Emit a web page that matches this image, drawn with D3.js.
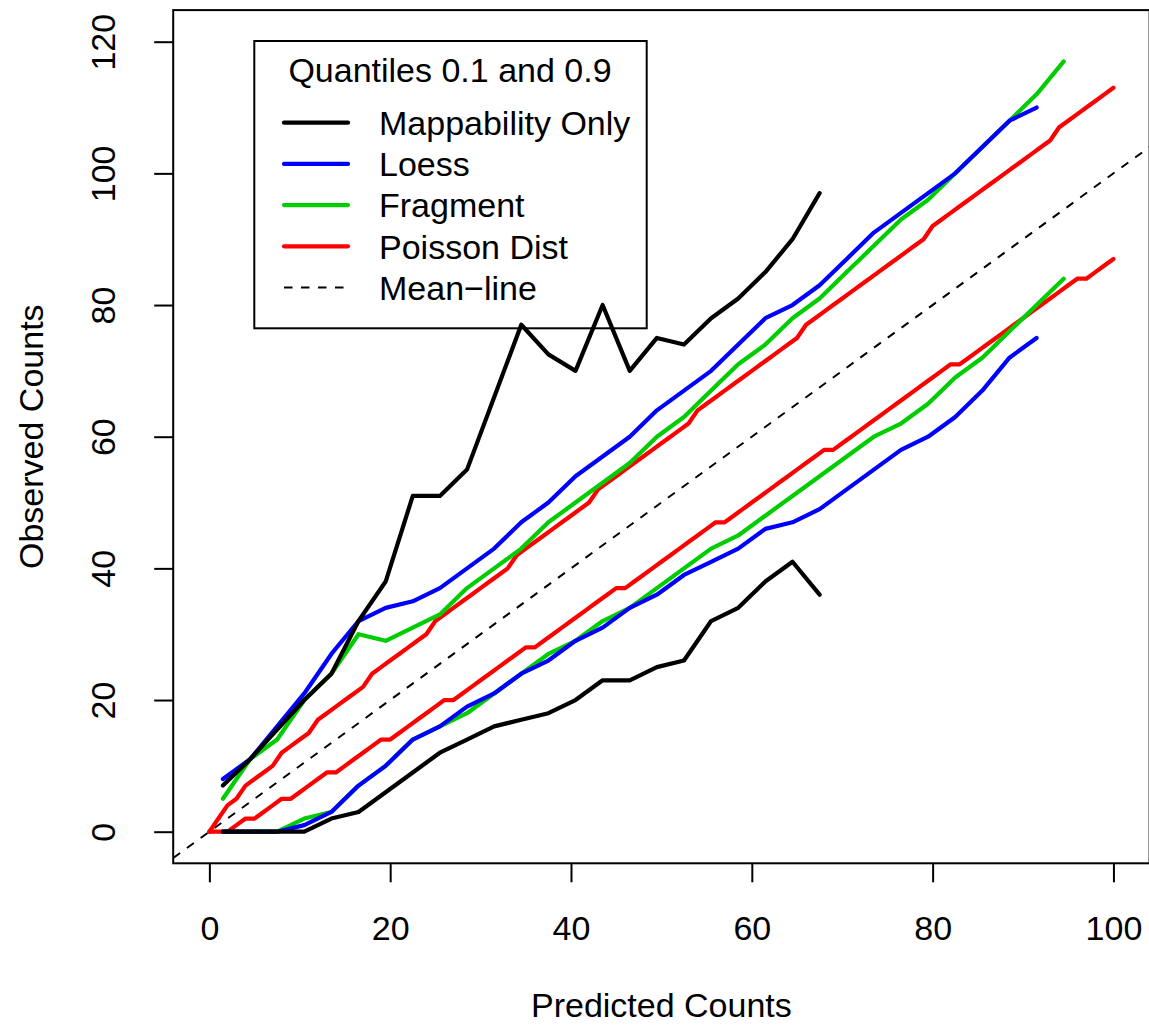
<!DOCTYPE html>
<html>
<head>
<meta charset="utf-8">
<script src="https://cdn.jsdelivr.net/npm/d3@7"></script>
<style>
  body { margin: 0; background: #fff; }
  svg { display: block; font-family: "Liberation Sans", Arial, Helvetica, sans-serif; }
</style>
</head>
<body>
<script>
// bin centres of the predicted counts (shared by the three empirical models)
const binX = [1.5, 4.5, 7.5, 10.5, 13.5, 16.5, 19.5, 22.5, 25.5, 28.5, 31.5, 34.5, 37.5, 40.5, 43.5, 46.5,
  49.5, 52.5, 55.5, 58.5, 61.5, 64.5, 67.5, 70.5, 73.5, 76.5, 79.5, 82.5, 85.5, 88.5, 91.5, 94.5];

const mapUpper = [7, 11, 15.5, 20, 24, 32, 38, 51, 51, 55, 66, 77, 72.5, 70, 80, 70, 75, 74, 78, 81, 85, 90, 97];
const mapLower = [0, 0, 0, 0, 2, 3, 6, 9, 12, 14, 16, 17, 18, 20, 23, 23, 25, 26, 32, 34, 38, 41, 36];

const loessUpper = [8, 11, 16, 21, 27, 32, 34, 35, 37, 40, 43, 47, 50, 54, 57, 60, 64, 67, 70, 74, 78, 80,
  83, 87, 91, 94, 97, 100, 104, 108, 110];
const loessLower = [0, 0, 0, 1, 3, 7, 10, 14, 16, 19, 21, 24, 26, 29, 31, 34, 36, 39, 41, 43, 46, 47,
  49, 52, 55, 58, 60, 63, 67, 72, 75];

const fragUpper = [5, 11, 14, 20, 24, 30, 29, 31, 33, 37, 40, 43, 47, 50, 53, 56, 60, 63, 67, 71, 74, 78,
  81, 85, 89, 93, 96, 100, 104, 108, 112, 117];
const fragLower = [0, 0, 0, 2, 3, 7, 10, 14, 16, 18, 21, 24, 27, 29, 32, 34, 37, 40, 43, 45, 48, 51,
  54, 57, 60, 62, 65, 69, 72, 76, 80, 84];

// Poisson quantiles, one point per integer predicted count 0..100
const poisX = [0, 1, 2, 3, 4, 5, 6, 7, 8, 9, 10, 11, 12, 13, 14, 15, 16, 17, 18, 19, 20, 21, 22, 23, 24, 25,
  26, 27, 28, 29, 30, 31, 32, 33, 34, 35, 36, 37, 38, 39, 40, 41, 42, 43, 44, 45, 46, 47, 48, 49, 50,
  51, 52, 53, 54, 55, 56, 57, 58, 59, 60, 61, 62, 63, 64, 65, 66, 67, 68, 69, 70, 71, 72, 73, 74, 75,
  76, 77, 78, 79, 80, 81, 82, 83, 84, 85, 86, 87, 88, 89, 90, 91, 92, 93, 94, 95, 96, 97, 98, 99, 100];
const poisUpper = [0, 2, 4, 5, 7, 8, 9, 10, 12, 13, 14, 15, 17, 18, 19, 20, 21, 22, 24, 25, 26, 27, 28, 29, 30, 32,
  33, 34, 35, 36, 37, 38, 39, 40, 42, 43, 44, 45, 46, 47, 48, 49, 50, 52, 53, 54, 55, 56, 57, 58, 59,
  60, 61, 62, 64, 65, 66, 67, 68, 69, 70, 71, 72, 73, 74, 75, 77, 78, 79, 80, 81, 82, 83, 84, 85, 86,
  87, 88, 89, 90, 92, 93, 94, 95, 96, 97, 98, 99, 100, 101, 102, 103, 104, 105, 107, 108, 109, 110, 111, 112, 113];
const poisLower = [0, 0, 0, 1, 2, 2, 3, 4, 5, 5, 6, 7, 8, 9, 9, 10, 11, 12, 13, 14, 14, 15, 16, 17, 18, 19,
  20, 20, 21, 22, 23, 24, 25, 26, 27, 28, 28, 29, 30, 31, 32, 33, 34, 35, 36, 37, 37, 38, 39, 40, 41,
  42, 43, 44, 45, 46, 47, 47, 48, 49, 50, 51, 52, 53, 54, 55, 56, 57, 58, 58, 59, 60, 61, 62, 63, 64,
  65, 66, 67, 68, 69, 70, 71, 71, 72, 73, 74, 75, 76, 77, 78, 79, 80, 81, 82, 83, 84, 84, 85, 86, 87];

const xTicks = [0, 20, 40, 60, 80, 100];
const yTicks = [0, 20, 40, 60, 80, 100, 120];

const legendTitle = 'Quantiles 0.1 and 0.9';
const legendLabels = ['Mappability Only', 'Loess', 'Fragment', 'Poisson Dist', 'Mean\u2212line'];
const legendColors = ['#000000', '#0000ff', '#00cd00', '#ff0000', '#000000'];

const width = 1149, height = 1025;
const fontSize = 34;

const svg = d3.select('body').append('svg')
  .attr('width', width)
  .attr('height', height);

const x = d3.scaleLinear().domain([-4, 104]).range([173.2, 1149.6]);
const y = d3.scaleLinear().domain([-4.8, 124.8]).range([863.3, 10.1]);

const [x0, x1] = x.range();
const [y0, y1] = y.range();

svg.append('clipPath').attr('id', 'plotclip')
  .append('rect')
  .attr('x', x0).attr('y', y1)
  .attr('width', x1 - x0).attr('height', y0 - y1);

// legend box first: its background is transparent and the curves run over it
const legend = svg.append('g');
legend.append('rect')
  .attr('x', 254.3).attr('y', 41)
  .attr('width', 392.4).attr('height', 287.3)
  .attr('fill', 'none')
  .attr('stroke', '#000')
  .attr('stroke-width', 2);

legend.append('text')
  .attr('x', 450)
  .attr('y', 82)
  .attr('text-anchor', 'middle')
  .style('font-size', fontSize + 'px')
  .text(legendTitle);

legendLabels.forEach((label, i) => {
  const ly = 122.7 + i * 41.2;
  const dashed = i === legendLabels.length - 1;
  legend.append('line')
    .attr('x1', 284).attr('x2', dashed ? 352 : 348)
    .attr('y1', ly).attr('y2', ly)
    .attr('stroke', legendColors[i])
    .attr('stroke-width', dashed ? 2 : 4.2)
    .attr('stroke-linecap', dashed ? 'butt' : 'round')
    .attr('stroke-dasharray', dashed ? '8.5,8.5' : null);
  legend.append('text')
    .attr('x', 379)
    .attr('y', ly + 12.2)
    .style('font-size', fontSize + 'px')
    .text(label);
});

const plot = svg.append('g').attr('clip-path', 'url(#plotclip)');

// mean line y = x across the whole plot region
const dom = x.domain();
plot.append('line')
  .attr('x1', x(dom[0])).attr('y1', y(dom[0]))
  .attr('x2', x(dom[1])).attr('y2', y(dom[1]))
  .attr('stroke', '#000')
  .attr('stroke-width', 2)
  .attr('stroke-dasharray', '8.5,8.5');

const line = d3.line().x((d) => x(d[0])).y((d) => y(d[1]));

const series = [
  { xs: poisX, ys: poisUpper, color: legendColors[3] },
  { xs: poisX, ys: poisLower, color: legendColors[3] },
  { xs: binX, ys: fragUpper, color: legendColors[2] },
  { xs: binX, ys: fragLower, color: legendColors[2] },
  { xs: binX, ys: loessUpper, color: legendColors[1] },
  { xs: binX, ys: loessLower, color: legendColors[1] },
  { xs: binX, ys: mapUpper, color: legendColors[0] },
  { xs: binX, ys: mapLower, color: legendColors[0] }
];

series.forEach((s) => {
  plot.append('path')
    .datum(s.ys.map((v, i) => [s.xs[i], v]))
    .attr('d', line)
    .attr('fill', 'none')
    .attr('stroke', s.color)
    .attr('stroke-width', 4.2)
    .attr('stroke-linejoin', 'round')
    .attr('stroke-linecap', 'round');
});

// axes
const xAxis = svg.append('g')
  .attr('transform', `translate(0,${y0})`)
  .call(d3.axisBottom(x).tickValues(xTicks).tickSize(19).tickFormat(d3.format('d')));
xAxis.select('.domain').remove();
xAxis.selectAll('line').attr('stroke-width', 2);
xAxis.selectAll('text')
  .attr('y', 77)
  .attr('dy', null)
  .style('font-size', fontSize + 'px')
  .style('font-family', '"Liberation Sans", Arial, Helvetica, sans-serif')
  .attr('fill', '#000');

const yAxis = svg.append('g')
  .attr('transform', `translate(${x0},0)`)
  .call(d3.axisLeft(y).tickValues(yTicks).tickSize(19).tickFormat(d3.format('d')));
yAxis.select('.domain').remove();
yAxis.selectAll('line').attr('stroke-width', 2);
yAxis.selectAll('text')
  .attr('x', null)
  .attr('dy', null)
  .attr('text-anchor', 'middle')
  .attr('transform', 'translate(-58,0) rotate(-90)')
  .style('font-size', fontSize + 'px')
  .style('font-family', '"Liberation Sans", Arial, Helvetica, sans-serif')
  .attr('fill', '#000');

// plot box
svg.append('rect')
  .attr('x', x0).attr('y', y1)
  .attr('width', x1 - x0).attr('height', y0 - y1)
  .attr('fill', 'none')
  .attr('stroke', '#000')
  .attr('stroke-width', 2);

// axis titles
svg.append('text')
  .attr('x', (x0 + x1) / 2)
  .attr('y', 1017)
  .attr('text-anchor', 'middle')
  .style('font-size', fontSize + 'px')
  .text('Predicted Counts');

svg.append('text')
  .attr('transform', `translate(43,${(y0 + y1) / 2}) rotate(-90)`)
  .attr('text-anchor', 'middle')
  .style('font-size', fontSize + 'px')
  .text('Observed Counts');
</script>
</body>
</html>
